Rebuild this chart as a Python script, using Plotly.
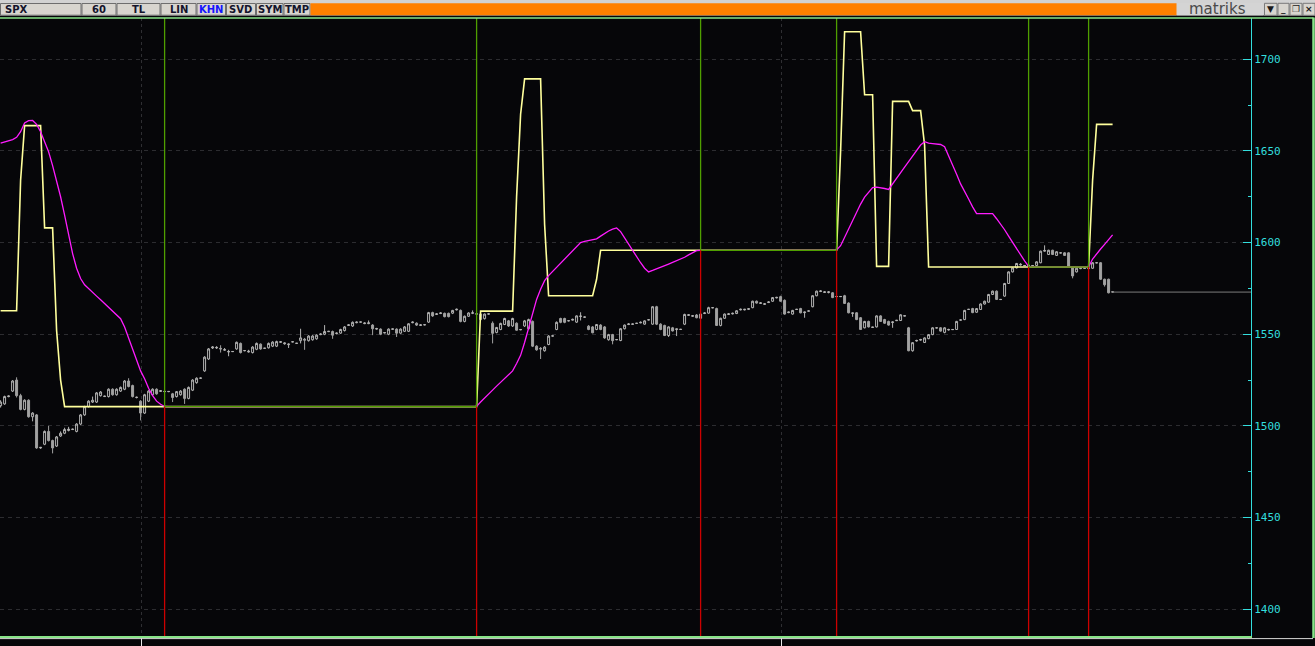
import plotly.graph_objects as go

# ---------------- data ----------------
opens = [
 1511.0, 1512.0, 1516.0, 1519.0, 1525.0, 1516.5, 1509.0, 1514.0, 1505.0, 1506.0,
 1488.0, 1490.0, 1497.0, 1492.0, 1489.0, 1494.5, 1496.0, 1497.5, 1498.0, 1497.0,
 1501.0, 1506.0, 1510.5, 1513.0, 1513.0, 1516.5, 1516.0, 1516.0, 1520.0, 1517.0,
 1519.0, 1520.0, 1524.5, 1522.0, 1515.5, 1513.5, 1507.0, 1513.5, 1517.0, 1520.0,
 1518.8, 1518.7, 1518.7, 1517.5, 1516.0, 1517.0, 1520.0, 1515.0, 1519.5, 1523.6,
 1526.0, 1530.0, 1536.5, 1542.5, 1542.5, 1542.3, 1541.3, 1540.3, 1540.5, 1542.0,
 1545.0, 1541.0, 1540.3, 1540.0, 1541.8, 1544.6, 1542.3, 1542.6, 1543.5, 1543.5,
 1545.6, 1544.8, 1544.3, 1545.8, 1545.0, 1546.5, 1547.3, 1546.5, 1547.0, 1547.5,
 1549.8, 1550.0, 1551.4, 1551.5, 1550.4, 1550.6, 1552.0, 1554.8, 1554.5, 1556.3,
 1556.6, 1555.8, 1555.8, 1555.0, 1552.8, 1552.8, 1550.7, 1550.0, 1552.7, 1552.8,
 1550.6, 1551.6, 1551.6, 1556.3, 1556.0, 1554.8, 1555.1, 1556.6, 1561.8, 1560.8,
 1561.3, 1561.4, 1561.4, 1561.5, 1563.3, 1563.0, 1557.0, 1559.8, 1561.4, 1561.0,
 1558.0, 1558.5, 1561.0, 1556.0, 1551.0, 1552.6, 1555.3, 1557.3, 1554.5, 1556.0,
 1552.4, 1554.5, 1553.0, 1557.0, 1543.5, 1542.3, 1541.0, 1544.4, 1549.0, 1552.6,
 1558.6, 1558.6, 1557.3, 1557.7, 1556.6, 1559.7, 1559.3, 1554.4, 1554.0, 1552.6,
 1555.0, 1554.0, 1547.0, 1549.8, 1547.0, 1546.6, 1553.0, 1555.3, 1555.4, 1555.9,
 1556.2, 1555.5, 1557.8, 1555.5, 1565.0, 1555.5, 1554.8, 1549.3, 1553.5, 1552.6,
 1552.6, 1555.5, 1560.3, 1559.8, 1560.5, 1558.7, 1561.3, 1561.5, 1564.4, 1564.0,
 1554.8, 1558.7, 1560.8, 1561.1, 1561.3, 1563.3, 1563.3, 1563.6, 1564.5, 1568.0,
 1566.8, 1566.3, 1567.3, 1568.0, 1569.8, 1570.5, 1568.5, 1561.8, 1561.0, 1563.5,
 1564.0, 1561.8, 1562.6, 1565.0, 1571.0, 1573.3, 1572.8, 1572.8, 1572.6, 1570.5,
 1570.5, 1571.0, 1567.0, 1561.4, 1561.7, 1559.0, 1553.5, 1557.0, 1553.7, 1554.0,
 1560.0, 1558.0, 1557.0, 1556.4, 1557.4, 1557.5, 1559.9, 1553.5, 1541.0, 1546.3,
 1546.8, 1545.5, 1547.6, 1549.8, 1553.4, 1553.5, 1551.0, 1552.3, 1552.5, 1552.6,
 1557.7, 1558.0, 1563.5, 1564.0, 1562.0, 1563.5, 1566.5, 1567.5, 1571.7, 1573.5,
 1568.9, 1570.8, 1577.7, 1584.0, 1586.2, 1587.8, 1587.4, 1587.3, 1587.4, 1587.5,
 1589.0, 1595.3, 1593.5, 1595.8, 1593.0, 1594.3, 1594.4, 1594.4, 1586.5, 1584.0,
 1585.8, 1585.9, 1585.8, 1586.0, 1588.9, 1589.0, 1580.0, 1580.0, 1573.2,
]
highs = [
 1514.0, 1516.5, 1516.6, 1525.0, 1526.5, 1517.5, 1514.5, 1514.5, 1507.5, 1506.5,
 1488.5, 1497.5, 1500.0, 1492.5, 1494.5, 1497.0, 1499.0, 1499.5, 1498.5, 1501.5,
 1506.5, 1511.0, 1514.0, 1516.0, 1518.5, 1519.0, 1516.5, 1520.5, 1520.5, 1520.5,
 1521.5, 1525.0, 1526.0, 1522.5, 1516.0, 1514.0, 1517.5, 1519.5, 1520.5, 1520.5,
 1519.5, 1519.0, 1519.0, 1518.0, 1519.0, 1519.5, 1520.5, 1521.5, 1525.5, 1526.5,
 1526.3, 1538.0, 1542.5, 1543.5, 1543.5, 1544.0, 1542.5, 1541.5, 1540.7, 1546.0,
 1545.5, 1541.3, 1541.5, 1543.5, 1545.5, 1545.0, 1542.5, 1545.5, 1546.2, 1546.5,
 1546.3, 1545.5, 1545.0, 1546.0, 1545.2, 1553.0, 1548.0, 1549.5, 1549.5, 1550.0,
 1550.5, 1555.0, 1551.8, 1552.0, 1551.0, 1553.0, 1554.5, 1555.5, 1557.0, 1557.0,
 1556.8, 1556.5, 1557.5, 1555.5, 1553.5, 1553.2, 1551.0, 1553.2, 1553.0, 1553.2,
 1553.2, 1554.5, 1556.0, 1557.0, 1556.5, 1555.5, 1555.3, 1562.2, 1562.3, 1561.5,
 1562.0, 1561.8, 1561.8, 1563.3, 1564.0, 1563.5, 1560.2, 1562.0, 1563.0, 1561.2,
 1561.3, 1561.3, 1561.2, 1557.0, 1554.0, 1556.3, 1559.0, 1557.8, 1559.0, 1556.5,
 1552.8, 1557.8, 1558.5, 1557.5, 1544.0, 1543.0, 1543.5, 1549.5, 1549.3, 1557.0,
 1559.0, 1559.0, 1557.5, 1558.5, 1560.3, 1562.0, 1559.5, 1555.0, 1554.5, 1555.6,
 1555.5, 1554.5, 1550.2, 1550.2, 1547.2, 1553.3, 1555.3, 1556.0, 1555.8, 1556.1,
 1557.0, 1557.6, 1558.0, 1565.3, 1565.5, 1556.0, 1555.2, 1554.3, 1554.0, 1553.0,
 1552.8, 1561.2, 1561.0, 1560.5, 1561.0, 1561.3, 1562.0, 1565.0, 1564.7, 1564.5,
 1559.0, 1561.3, 1561.5, 1561.8, 1563.1, 1564.0, 1563.8, 1564.2, 1568.3, 1568.4,
 1567.5, 1567.0, 1568.0, 1570.3, 1570.4, 1571.0, 1569.0, 1562.3, 1563.3, 1563.8,
 1564.4, 1562.3, 1562.9, 1571.3, 1573.8, 1574.0, 1573.5, 1573.5, 1573.0, 1570.8,
 1570.8, 1571.5, 1567.4, 1561.8, 1562.0, 1559.4, 1557.3, 1557.4, 1554.0, 1560.3,
 1560.4, 1558.4, 1557.4, 1557.0, 1557.8, 1560.9, 1560.2, 1554.0, 1545.7, 1547.0,
 1547.5, 1548.3, 1550.1, 1553.8, 1553.7, 1553.8, 1553.8, 1553.0, 1552.8, 1557.3,
 1558.0, 1563.3, 1563.8, 1564.4, 1564.3, 1566.8, 1568.3, 1572.0, 1573.8, 1573.9,
 1569.2, 1578.0, 1584.3, 1586.5, 1588.9, 1588.8, 1587.7, 1588.0, 1587.7, 1589.8,
 1595.6, 1598.5, 1596.1, 1596.1, 1595.3, 1594.6, 1594.7, 1594.7, 1586.8, 1586.3,
 1586.5, 1586.2, 1586.4, 1589.3, 1589.2, 1589.3, 1580.3, 1580.3, 1573.5,
]
lows = [
 1510.0, 1511.5, 1515.6, 1518.5, 1515.5, 1508.5, 1508.5, 1504.5, 1502.5, 1487.5,
 1487.5, 1489.5, 1491.5, 1485.0, 1488.5, 1494.0, 1495.5, 1497.0, 1497.8, 1496.5,
 1500.5, 1505.5, 1510.0, 1512.5, 1512.5, 1516.0, 1515.8, 1515.5, 1516.5, 1516.5,
 1518.5, 1519.5, 1521.0, 1515.5, 1515.0, 1503.0, 1506.5, 1513.0, 1516.5, 1517.0,
 1518.5, 1518.4, 1518.4, 1513.0, 1515.5, 1516.5, 1512.0, 1514.5, 1519.0, 1523.0,
 1525.7, 1529.5, 1536.0, 1542.0, 1542.0, 1540.0, 1541.0, 1538.0, 1540.3, 1541.5,
 1539.5, 1540.7, 1540.0, 1539.5, 1541.3, 1541.5, 1542.0, 1542.2, 1543.0, 1543.0,
 1545.3, 1544.3, 1542.5, 1545.6, 1544.8, 1545.0, 1541.5, 1546.0, 1546.5, 1547.0,
 1549.5, 1549.5, 1551.2, 1547.5, 1550.0, 1550.2, 1551.5, 1554.5, 1554.0, 1556.0,
 1556.5, 1555.5, 1555.5, 1549.5, 1552.5, 1549.5, 1550.5, 1549.5, 1552.5, 1548.5,
 1550.2, 1551.2, 1551.2, 1556.0, 1554.5, 1554.5, 1554.9, 1556.2, 1559.5, 1560.5,
 1561.0, 1559.2, 1559.2, 1561.0, 1563.0, 1556.5, 1556.5, 1559.5, 1561.0, 1560.8,
 1557.5, 1558.0, 1560.8, 1545.0, 1550.5, 1552.2, 1555.0, 1554.0, 1554.0, 1552.0,
 1552.2, 1554.0, 1552.5, 1543.0, 1541.0, 1536.5, 1540.5, 1544.0, 1548.8, 1552.2,
 1556.0, 1556.0, 1557.0, 1557.5, 1556.2, 1557.5, 1559.1, 1552.2, 1550.5, 1552.2,
 1552.2, 1547.5, 1546.5, 1544.5, 1546.8, 1546.2, 1552.6, 1555.0, 1555.2, 1555.7,
 1556.0, 1555.2, 1557.6, 1555.2, 1555.0, 1552.2, 1549.0, 1548.5, 1551.5, 1549.0,
 1552.4, 1555.0, 1560.0, 1559.5, 1558.7, 1558.4, 1561.0, 1561.2, 1564.2, 1554.5,
 1554.3, 1558.4, 1560.5, 1560.8, 1561.0, 1563.0, 1563.0, 1563.3, 1564.2, 1566.7,
 1566.5, 1566.0, 1567.0, 1567.7, 1569.6, 1567.8, 1560.7, 1561.5, 1560.7, 1563.4,
 1561.4, 1559.0, 1562.5, 1564.7, 1570.7, 1573.0, 1572.5, 1572.3, 1569.7, 1570.3,
 1570.3, 1566.5, 1561.4, 1559.5, 1557.7, 1552.3, 1553.2, 1553.7, 1553.5, 1553.7,
 1556.7, 1555.7, 1554.7, 1553.5, 1557.2, 1557.2, 1559.8, 1540.7, 1540.5, 1546.0,
 1546.5, 1545.2, 1547.3, 1549.5, 1553.3, 1551.4, 1550.5, 1552.0, 1552.4, 1552.3,
 1557.6, 1557.7, 1563.4, 1561.5, 1561.7, 1563.2, 1566.2, 1567.2, 1571.4, 1568.7,
 1568.8, 1570.5, 1577.4, 1583.7, 1585.9, 1587.5, 1587.3, 1587.0, 1587.3, 1587.2,
 1588.7, 1595.0, 1593.2, 1593.2, 1592.7, 1594.2, 1592.7, 1586.7, 1580.5, 1583.7,
 1585.5, 1585.8, 1585.5, 1585.7, 1588.8, 1579.7, 1576.0, 1572.3, 1572.8,
]
closes = [
 1513.0, 1516.0, 1516.3, 1524.5, 1516.5, 1509.0, 1514.0, 1505.0, 1507.0, 1488.0,
 1488.3, 1497.0, 1492.0, 1488.0, 1494.0, 1496.0, 1498.0, 1498.2, 1498.2, 1501.0,
 1506.0, 1510.5, 1513.5, 1514.0, 1518.0, 1518.5, 1516.2, 1520.0, 1517.0, 1520.0,
 1521.0, 1524.5, 1521.5, 1516.0, 1515.6, 1507.0, 1517.0, 1519.0, 1520.0, 1517.5,
 1519.2, 1518.8, 1518.8, 1515.5, 1518.7, 1519.0, 1515.0, 1521.0, 1525.0, 1526.0,
 1526.1, 1537.5, 1542.0, 1543.0, 1542.8, 1542.0, 1541.6, 1540.6, 1540.6, 1545.6,
 1540.0, 1541.1, 1540.7, 1543.0, 1545.0, 1542.0, 1542.4, 1545.0, 1545.7, 1546.0,
 1545.9, 1545.2, 1544.6, 1545.9, 1545.1, 1548.0, 1546.8, 1549.0, 1549.0, 1549.5,
 1550.1, 1551.5, 1551.6, 1549.5, 1550.6, 1552.6, 1554.0, 1555.1, 1556.5, 1556.6,
 1556.7, 1556.1, 1556.2, 1553.0, 1553.1, 1550.0, 1550.9, 1552.8, 1552.9, 1550.6,
 1552.8, 1554.0, 1555.7, 1556.6, 1555.0, 1555.1, 1555.2, 1561.8, 1560.0, 1561.1,
 1561.6, 1559.6, 1559.6, 1563.0, 1563.6, 1557.0, 1559.8, 1561.6, 1561.7, 1561.1,
 1561.0, 1561.0, 1561.1, 1550.5, 1553.7, 1555.9, 1558.6, 1554.5, 1558.6, 1552.2,
 1552.6, 1557.3, 1558.0, 1543.5, 1541.5, 1542.0, 1543.0, 1549.0, 1549.1, 1556.5,
 1556.5, 1556.5, 1557.4, 1558.1, 1560.0, 1559.9, 1559.4, 1552.6, 1550.8, 1555.3,
 1552.6, 1548.0, 1549.8, 1546.5, 1547.1, 1553.0, 1555.0, 1555.6, 1555.6, 1556.0,
 1556.5, 1557.3, 1557.9, 1565.0, 1555.5, 1552.6, 1549.3, 1554.0, 1551.8, 1552.9,
 1552.7, 1560.8, 1560.6, 1560.1, 1559.0, 1561.0, 1561.6, 1564.5, 1564.5, 1554.8,
 1558.7, 1561.0, 1561.1, 1561.4, 1562.8, 1563.6, 1563.6, 1563.9, 1568.0, 1567.0,
 1567.1, 1566.6, 1567.6, 1570.0, 1570.1, 1568.0, 1561.0, 1562.1, 1563.0, 1563.6,
 1561.7, 1562.1, 1562.7, 1571.0, 1573.5, 1573.6, 1573.1, 1573.1, 1570.0, 1570.6,
 1570.6, 1566.8, 1561.7, 1561.6, 1558.0, 1552.6, 1557.0, 1554.0, 1553.9, 1560.0,
 1557.0, 1556.0, 1555.0, 1556.7, 1557.6, 1560.6, 1560.1, 1541.0, 1545.4, 1546.6,
 1547.1, 1548.0, 1549.8, 1553.5, 1553.5, 1551.7, 1553.5, 1552.6, 1552.6, 1557.0,
 1557.8, 1563.0, 1563.6, 1561.8, 1564.0, 1566.5, 1568.0, 1571.7, 1573.5, 1569.0,
 1569.0, 1577.7, 1584.0, 1586.2, 1588.6, 1588.1, 1587.5, 1587.6, 1587.5, 1589.5,
 1595.3, 1595.7, 1595.8, 1593.5, 1595.0, 1594.4, 1593.0, 1587.0, 1581.8, 1586.0,
 1586.1, 1586.0, 1586.1, 1589.0, 1589.0, 1580.0, 1577.0, 1572.6, 1573.0,
]
# yellow stepped indicator (one value per bar)
yellow = [
 1562.8, 1562.8, 1562.8, 1562.8, 1562.8, 1634.0, 1663.8, 1663.8, 1663.8, 1663.8,
 1663.8, 1608.0, 1608.0, 1608.0, 1552.0, 1525.0, 1510.5, 1510.5, 1510.5, 1510.5,
 1510.5, 1510.5, 1510.5, 1510.5, 1510.5, 1510.5, 1510.5, 1510.5, 1510.5, 1510.5,
 1510.5, 1510.5, 1510.5, 1510.5, 1510.5, 1510.5, 1510.5, 1510.5, 1510.5, 1510.5,
 1510.5, 1510.5, 1510.5, 1510.5, 1510.5, 1510.5, 1510.5, 1510.5, 1510.5, 1510.5,
 1510.5, 1510.5, 1510.5, 1510.5, 1510.5, 1510.5, 1510.5, 1510.5, 1510.5, 1510.5,
 1510.5, 1510.5, 1510.5, 1510.5, 1510.5, 1510.5, 1510.5, 1510.5, 1510.5, 1510.5,
 1510.5, 1510.5, 1510.5, 1510.5, 1510.5, 1510.5, 1510.5, 1510.5, 1510.5, 1510.5,
 1510.5, 1510.5, 1510.5, 1510.5, 1510.5, 1510.5, 1510.5, 1510.5, 1510.5, 1510.5,
 1510.5, 1510.5, 1510.5, 1510.5, 1510.5, 1510.5, 1510.5, 1510.5, 1510.5, 1510.5,
 1510.5, 1510.5, 1510.5, 1510.5, 1510.5, 1510.5, 1510.5, 1510.5, 1510.5, 1510.5,
 1510.5, 1510.5, 1510.5, 1510.5, 1510.5, 1510.5, 1510.5, 1510.5, 1510.5, 1510.5,
 1562.6, 1562.6, 1562.6, 1562.6, 1562.6, 1562.6, 1562.6, 1562.6, 1562.6, 1625.0,
 1670.0, 1689.3, 1689.3, 1689.3, 1689.3, 1689.3, 1610.0, 1571.0, 1571.0, 1571.0,
 1571.0, 1571.0, 1571.0, 1571.0, 1571.0, 1571.0, 1571.0, 1571.0, 1571.0, 1580.0,
 1595.8, 1595.8, 1595.8, 1595.8, 1595.8, 1595.8, 1595.8, 1595.8, 1595.8, 1595.8,
 1595.8, 1595.8, 1595.8, 1595.8, 1595.8, 1595.8, 1595.8, 1595.8, 1595.8, 1595.8,
 1595.8, 1595.8, 1595.8, 1595.8, 1595.8, 1595.8, 1595.8, 1595.8, 1595.8, 1595.8,
 1595.8, 1595.8, 1595.8, 1595.8, 1595.8, 1595.8, 1595.8, 1595.8, 1595.8, 1595.8,
 1595.8, 1595.8, 1595.8, 1595.8, 1595.8, 1595.8, 1595.8, 1595.8, 1595.8, 1595.8,
 1595.8, 1595.8, 1595.8, 1595.8, 1595.8, 1595.8, 1595.8, 1595.8, 1595.8, 1595.8,
 1650.0, 1715.0, 1715.0, 1715.0, 1715.0, 1715.0, 1680.6, 1680.6, 1680.6, 1587.0,
 1587.0, 1587.0, 1587.0, 1677.0, 1677.0, 1677.0, 1677.0, 1677.0, 1672.0, 1672.0,
 1672.0, 1653.0, 1586.7, 1586.7, 1586.7, 1586.7, 1586.7, 1586.7, 1586.7, 1586.7,
 1586.7, 1586.7, 1586.7, 1586.7, 1586.7, 1586.7, 1586.7, 1586.7, 1586.7, 1586.7,
 1586.7, 1586.7, 1586.7, 1586.7, 1586.7, 1586.7, 1586.7, 1586.7, 1586.7, 1586.7,
 1586.7, 1586.7, 1586.7, 1586.7, 1586.7, 1586.7, 1586.7, 1586.7, 1586.7, 1586.7,
 1586.7, 1586.7, 1586.7, 1634.0, 1664.5, 1664.5, 1664.5, 1664.5, 1664.5,
]
# magenta smoothed indicator (one value per bar)
magenta = [
 1654.2, 1654.8, 1655.4, 1656.2, 1657.4, 1660.5, 1665.2, 1666.5, 1666.6, 1664.5,
 1660.5, 1655.0, 1649.5, 1642.0, 1634.0, 1625.0, 1615.0, 1604.5, 1594.0, 1586.0,
 1580.4, 1577.0, 1574.8, 1572.9, 1570.8, 1568.8, 1566.8, 1564.8, 1562.9, 1561.0,
 1558.5, 1554.0, 1548.0, 1542.5, 1536.5, 1530.0, 1525.7, 1520.5, 1516.5, 1513.5,
 1511.8, 1510.6, 1510.5, 1510.5, 1510.5, 1510.5, 1510.5, 1510.5, 1510.5, 1510.5,
 1510.5, 1510.5, 1510.5, 1510.5, 1510.5, 1510.5, 1510.5, 1510.5, 1510.5, 1510.5,
 1510.5, 1510.5, 1510.5, 1510.5, 1510.5, 1510.5, 1510.5, 1510.5, 1510.5, 1510.5,
 1510.5, 1510.5, 1510.5, 1510.5, 1510.5, 1510.5, 1510.5, 1510.5, 1510.5, 1510.5,
 1510.5, 1510.5, 1510.5, 1510.5, 1510.5, 1510.5, 1510.5, 1510.5, 1510.5, 1510.5,
 1510.5, 1510.5, 1510.5, 1510.5, 1510.5, 1510.5, 1510.5, 1510.5, 1510.5, 1510.5,
 1510.5, 1510.5, 1510.5, 1510.5, 1510.5, 1510.5, 1510.5, 1510.5, 1510.5, 1510.5,
 1510.5, 1510.5, 1510.5, 1510.5, 1510.5, 1510.5, 1510.5, 1510.5, 1510.5, 1510.6,
 1513.0, 1515.0, 1517.3, 1519.5, 1521.7, 1523.8, 1526.0, 1528.0, 1530.0, 1534.0,
 1538.5, 1545.5, 1553.0, 1561.0, 1569.0, 1574.5, 1579.2, 1582.0, 1584.3, 1586.2,
 1588.7, 1591.0, 1593.5, 1595.8, 1598.0, 1600.0, 1600.6, 1601.0, 1601.2, 1602.0,
 1603.5, 1605.0, 1606.3, 1607.3, 1608.0, 1606.0, 1602.5, 1599.0, 1596.0, 1592.5,
 1589.0, 1586.0, 1584.0, 1584.8, 1585.6, 1586.3, 1587.3, 1588.3, 1589.2, 1590.0,
 1590.8, 1592.0, 1593.3, 1594.5, 1595.6, 1595.8, 1595.8, 1595.8, 1595.8, 1595.8,
 1595.8, 1595.8, 1595.8, 1595.8, 1595.8, 1595.8, 1595.8, 1595.8, 1595.8, 1595.8,
 1595.8, 1595.8, 1595.8, 1595.8, 1595.8, 1595.8, 1595.8, 1595.8, 1595.8, 1595.8,
 1595.8, 1595.8, 1595.8, 1595.8, 1595.8, 1595.8, 1595.8, 1595.8, 1595.8, 1596.0,
 1598.3, 1603.0, 1607.4, 1612.5, 1617.0, 1621.0, 1624.8, 1627.5, 1630.0, 1630.2,
 1630.0, 1629.5, 1629.0, 1632.2, 1635.5, 1638.4, 1641.2, 1644.2, 1647.1, 1650.3,
 1653.2, 1655.0, 1654.2, 1654.0, 1653.8, 1653.5, 1652.3, 1647.5, 1642.3, 1637.3,
 1632.0, 1627.5, 1623.8, 1619.5, 1615.8, 1615.8, 1615.8, 1615.8, 1615.8, 1613.0,
 1610.3, 1607.0, 1603.5, 1600.0, 1596.5, 1593.0, 1590.0, 1587.0, 1586.7, 1586.7,
 1586.7, 1586.7, 1586.7, 1586.7, 1586.7, 1586.7, 1586.7, 1586.7, 1586.7, 1586.7,
 1586.7, 1586.7, 1586.7, 1591.0, 1594.0, 1596.5, 1599.0, 1601.6, 1604.2,
]
# signal bars (vertical markers) and their levels
signal_bars = [41, 119, 175, 209, 257, 272]
signal_levels = [1510.5, 1510.5, 1595.8, 1595.8, 1586.7, 1586.7]
# horizontal level segments: (start bar, end bar, level)
level_start = [41, 175, 257]
level_end = [119, 209, 272]
level_value = [1510.5, 1595.8, 1586.7]
# month separators (dashed vertical grid) in bar units
month_grid = [35.1, 195.1]
y_ticks = [1400, 1450, 1500, 1550, 1600, 1650, 1700]
toolbar_labels = ["SPX", "60", "TL", "LIN", "KHN", "SVD", "SYM", "TMP"]

bars = list(range(len(closes)))

# ---------------- geometry / style ----------------
W, H = 1315, 646
PL, PR, PT, PB = 0, 1251, 18, 636
Y_MIN, Y_MAX = 1385.4, 1722.5
X_MIN, X_MAX = -0.15, 312.6

BG = "#060609"
GREEN = "#4f9e00"
RED = "#cc0000"
CYAN = "#33dede"
FRAME = "#88e488"


def px(x):
    return (x - PL) / (PR - PL)


def py(y):
    return (PB - y) / (PB - PT)


fig = go.Figure()

fig.add_trace(go.Candlestick(
    x=bars, open=opens, high=highs, low=lows, close=closes,
    increasing=dict(line=dict(color="#b4b4b4", width=1), fillcolor=BG),
    decreasing=dict(line=dict(color="#a2a2a2", width=1), fillcolor="#a2a2a2"),
    whiskerwidth=0, hoverinfo="skip", showlegend=False,
))

fig.add_trace(go.Scatter(x=bars, y=yellow, mode="lines",
                         line=dict(color="#ffff9c", width=1.6),
                         hoverinfo="skip", showlegend=False))
fig.add_trace(go.Scatter(x=bars, y=magenta, mode="lines",
                         line=dict(color="#ff1cff", width=1.3),
                         hoverinfo="skip", showlegend=False))

# level segments
lx, ly = [], []
for s, e, v in zip(level_start, level_end, level_value):
    lx += [s, e, None]
    ly += [v, v, None]
fig.add_trace(go.Scatter(x=lx, y=ly, mode="lines",
                         line=dict(color=GREEN, width=1.4),
                         hoverinfo="skip", showlegend=False))

# vertical markers: green above level, red below
gx, gy, rx, ry = [], [], [], []
for b, lv in zip(signal_bars, signal_levels):
    gx += [b, b, None]
    gy += [lv, Y_MAX, None]
    rx += [b, b, None]
    ry += [lv, Y_MIN, None]
fig.add_trace(go.Scatter(x=gx, y=gy, mode="lines",
                         line=dict(color=GREEN, width=1.3),
                         hoverinfo="skip", showlegend=False))
fig.add_trace(go.Scatter(x=rx, y=ry, mode="lines",
                         line=dict(color=RED, width=1.3),
                         hoverinfo="skip", showlegend=False))

# last price line
fig.add_trace(go.Scatter(x=[bars[-1], X_MAX], y=[closes[-1], closes[-1]],
                         mode="lines", line=dict(color="#7c7c7c", width=1),
                         hoverinfo="skip", showlegend=False))

shapes = []
annotations = []

# frame lines
shapes.append(dict(type="line", xref="paper", yref="paper",
                   x0=px(0), x1=px(1313.5), y0=py(18), y1=py(18),
                   line=dict(color=FRAME, width=1.5)))
shapes.append(dict(type="line", xref="paper", yref="paper",
                   x0=px(1313.5), x1=px(1313.5), y0=py(17.5), y1=py(638),
                   line=dict(color=FRAME, width=2.5)))
shapes.append(dict(type="line", xref="paper", yref="paper",
                   x0=px(0), x1=px(1313), y0=py(638.6), y1=py(638.6),
                   line=dict(color="#d8d8d8", width=1)))

# toolbar background
shapes.append(dict(type="rect", xref="paper", yref="paper",
                   x0=px(0), x1=px(1315), y0=py(0), y1=py(15.5),
                   fillcolor="#d2d2d2", line=dict(width=0), layer="above"))
btn_edges = [0, 81.5, 116.5, 160.5, 196.5, 226, 256, 283.5, 310.5]
for i, lab in enumerate(toolbar_labels):
    x0, x1 = btn_edges[i], btn_edges[i + 1]
    shapes.append(dict(type="rect", xref="paper", yref="paper",
                       x0=px(x0 + 0.5), x1=px(x1 - 0.5), y0=py(3.5), y1=py(15.2),
                       fillcolor="#d8d5cf", line=dict(color="#6e6e6e", width=1),
                       layer="above"))
    col = "#1414ff" if lab == "KHN" else "#14142c"
    if i == 0:
        annotations.append(dict(xref="paper", yref="paper", x=px(3), y=py(9.6),
                                xanchor="left", yanchor="middle", showarrow=False,
                                text="<b>%s</b>" % lab,
                                font=dict(family="DejaVu Sans", size=10, color=col)))
    else:
        annotations.append(dict(xref="paper", yref="paper", x=px((x0 + x1) / 2),
                                y=py(9.6), xanchor="center", yanchor="middle",
                                showarrow=False, text="<b>%s</b>" % lab,
                                font=dict(family="DejaVu Sans", size=10, color=col)))
# orange bar
shapes.append(dict(type="rect", xref="paper", yref="paper",
                   x0=px(310.5), x1=px(1176.5), y0=py(3.3), y1=py(15.3),
                   fillcolor="#ff8000", line=dict(width=0), layer="above"))
# matriks logo area
shapes.append(dict(type="rect", xref="paper", yref="paper",
                   x0=px(1177), x1=px(1263), y0=py(3.3), y1=py(15.3),
                   fillcolor="#d4d4d4", line=dict(width=0), layer="above"))
annotations.append(dict(xref="paper", yref="paper", x=px(1217), y=py(9.3),
                        xanchor="center", yanchor="middle", showarrow=False,
                        text="matriks",
                        font=dict(family="DejaVu Sans", size=15, color="#4a4a4a")))
# window buttons
win_btns = [(1264.5, 1277, "▼"), (1278, 1289, "_"), (1290, 1302, "❐"), (1303, 1315, "×")]
for x0, x1, g in win_btns:
    shapes.append(dict(type="rect", xref="paper", yref="paper",
                       x0=px(x0), x1=px(x1), y0=py(3.3), y1=py(15.3),
                       fillcolor="#d8d5cf", line=dict(color="#7a7a7a", width=1),
                       layer="above"))
    annotations.append(dict(xref="paper", yref="paper", x=px((x0 + x1) / 2),
                            y=py(9.3), xanchor="center", yanchor="middle",
                            showarrow=False, text="<b>%s</b>" % g,
                            font=dict(family="DejaVu Sans", size=9, color="#1a1a1a")))

fig.update_layout(
    width=W, height=H, autosize=False,
    margin=dict(l=PL, r=W - PR, t=PT, b=H - PB),
    paper_bgcolor=BG, plot_bgcolor=BG,
    showlegend=False,
    shapes=shapes, annotations=annotations,
    xaxis=dict(
        range=[X_MIN, X_MAX], rangeslider=dict(visible=False),
        tickvals=month_grid, showticklabels=False,
        showgrid=True, gridcolor="#2e2e32", griddash="3px,3px", gridwidth=1,
        ticks="outside", ticklen=9, tickcolor="#e8e8e8", tickwidth=1,
        showline=True, linecolor=FRAME, linewidth=2, zeroline=False,
        fixedrange=True,
    ),
    yaxis=dict(
        range=[Y_MIN, Y_MAX], side="right",
        tickvals=y_ticks, showgrid=True, gridcolor="#2c2c30",
        griddash="4px,4px", gridwidth=1,
        ticks="inside", ticklen=8, tickcolor=CYAN, tickwidth=1,
        minor=dict(dtick=25, tick0=1400, ticks="inside", ticklen=3,
                   tickcolor=CYAN, showgrid=False),
        showline=True, linecolor=CYAN, linewidth=1, zeroline=False,
        tickfont=dict(family="DejaVu Sans Mono", size=11, color=CYAN),
        automargin=False, fixedrange=True,
    ),
)

fig.write_html("out.html", config={"displayModeBar": False},
               post_script="document.body.style.margin='0';document.body.style.overflow='hidden';")
